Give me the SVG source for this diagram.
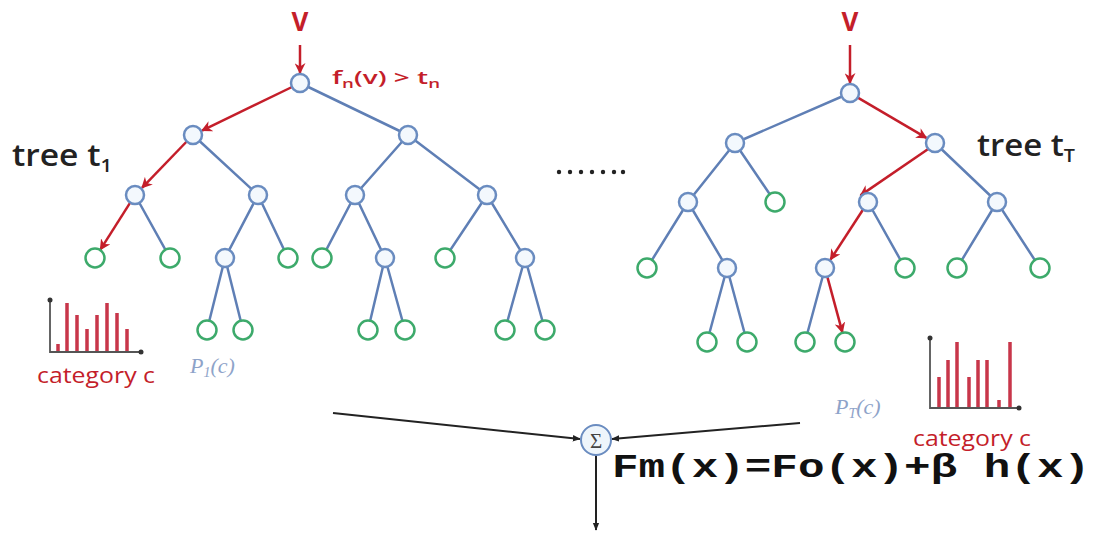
<svg xmlns="http://www.w3.org/2000/svg" width="1101" height="536" viewBox="0 0 1101 536">
<defs>
<marker id="ar" viewBox="0 0 10 10" refX="9" refY="5" markerWidth="11" markerHeight="11" markerUnits="userSpaceOnUse" orient="auto"><path d="M0,0 L10,5 L0,10 L3,5 z" fill="#c41e2a"/></marker>
<marker id="ak" viewBox="0 0 10 10" refX="9" refY="5" markerWidth="8" markerHeight="8" markerUnits="userSpaceOnUse" orient="auto"><path d="M0,1 L10,5 L0,9 z" fill="#222"/></marker>
</defs>
<style>
.e{stroke:#5f7fb5;stroke-width:2.5;fill:none}
.r{stroke:#c41e2a;stroke-width:2.5;fill:none;marker-end:url(#ar)}
.k{stroke:#222;stroke-width:2;fill:none}
.n{fill:#f3f8fd;stroke:#6a8cc0;stroke-width:2.5}
.l{fill:#fff;stroke:#3daa6b;stroke-width:2.5}
.bar{stroke:#c8364a;stroke-width:3.5;fill:none}
.ax{stroke:#555;stroke-width:1.8;fill:none}
.t{font-family:"Open Sans","Liberation Sans",sans-serif;font-weight:600;fill:#222}
.red{fill:#c41e2a;font-family:"Open Sans","Liberation Sans",sans-serif}
.p{font-family:"Liberation Serif",serif;font-style:italic;fill:#8ea3c9}
</style>
<g id="connectors">
<path class="e" d="M300,83 L408,135 M193,135 L258,195 M408,135 L355,195 M408,135 L487,195 M135,195 L170,258 M258,195 L225,258 M258,195 L288,258 M355,195 L322,258 M355,195 L385,258 M487,195 L445,258 M487,195 L525,258 M225,258 L207,330 M225,258 L243,330 M385,258 L368,330 M385,258 L405,330 M525,258 L505,330 M525,258 L545,330"/>
<path class="r" d="M300,45 L300,73"/>
<path class="r" d="M292,87 L202,130.6"/>
<path class="r" d="M186.7,141.5 L142,187.8"/>
<path class="r" d="M130.2,202.6 L100.4,249.6"/>
<path class="e" d="M850,93 L735,143 M735,143 L688,202 M735,143 L775,202 M935,143 L997,202 M688,202 L647,268 M688,202 L727,268 M868,202 L905,268 M997,202 L957,268 M997,202 L1040,268 M727,268 L707,342 M727,268 L747,342 M825,268 L805,342"/>
<path class="r" d="M850,45 L850,83"/>
<path class="r" d="M857.8,97.6 L926.4,137.9"/>
<path class="r" d="M928.2,149 L860.5,195.4"/>
<path class="r" d="M863.1,209.5 L830.5,259.6"/>
<path class="r" d="M827.3,276.7 L842.4,332.4"/>
<path class="k" d="M333,413 L580,439" marker-end="url(#ak)"/>
<path class="k" d="M800,423 L612,439" marker-end="url(#ak)"/>
<path class="k" d="M596,455 L596,530" marker-end="url(#ak)"/>
</g>
<g id="tree1">
<circle class="n" cx="300" cy="83" r="9"/>
<circle class="n" cx="193" cy="135" r="9"/>
<circle class="n" cx="408" cy="135" r="9"/>
<circle class="n" cx="135" cy="195" r="9"/>
<circle class="n" cx="258" cy="195" r="9"/>
<circle class="n" cx="355" cy="195" r="9"/>
<circle class="n" cx="487" cy="195" r="9"/>
<circle class="l" cx="95" cy="258" r="9.5"/>
<circle class="l" cx="170" cy="258" r="9.5"/>
<circle class="n" cx="225" cy="258" r="9"/>
<circle class="l" cx="288" cy="258" r="9.5"/>
<circle class="l" cx="322" cy="258" r="9.5"/>
<circle class="n" cx="385" cy="258" r="9"/>
<circle class="l" cx="445" cy="258" r="9.5"/>
<circle class="n" cx="525" cy="258" r="9"/>
<circle class="l" cx="207" cy="330" r="9.5"/>
<circle class="l" cx="243" cy="330" r="9.5"/>
<circle class="l" cx="368" cy="330" r="9.5"/>
<circle class="l" cx="405" cy="330" r="9.5"/>
<circle class="l" cx="505" cy="330" r="9.5"/>
<circle class="l" cx="545" cy="330" r="9.5"/>
</g>
<g id="tree2">
<circle class="n" cx="850" cy="93" r="9"/>
<circle class="n" cx="735" cy="143" r="9"/>
<circle class="n" cx="935" cy="143" r="9"/>
<circle class="n" cx="688" cy="202" r="9"/>
<circle class="l" cx="775" cy="202" r="9.5"/>
<circle class="n" cx="868" cy="202" r="9"/>
<circle class="n" cx="997" cy="202" r="9"/>
<circle class="l" cx="647" cy="268" r="9.5"/>
<circle class="n" cx="727" cy="268" r="9"/>
<circle class="n" cx="825" cy="268" r="9"/>
<circle class="l" cx="905" cy="268" r="9.5"/>
<circle class="l" cx="957" cy="268" r="9.5"/>
<circle class="l" cx="1040" cy="268" r="9.5"/>
<circle class="l" cx="707" cy="342" r="9.5"/>
<circle class="l" cx="747" cy="342" r="9.5"/>
<circle class="l" cx="805" cy="342" r="9.5"/>
<circle class="l" cx="845" cy="342" r="9.5"/>
</g>
<g id="labels">
<text class="red" x="300" y="31" font-size="26" font-weight="bold" text-anchor="middle">V</text>
<text class="red" x="850" y="31" font-size="26" font-weight="bold" text-anchor="middle">V</text>
<text class="red" x="332" y="84" font-size="18" font-weight="600" textLength="108" lengthAdjust="spacingAndGlyphs">f<tspan font-size="12" dy="4">n</tspan><tspan dy="-4">(v) &gt; t</tspan><tspan font-size="12" dy="4">n</tspan></text>
<text class="t" x="12" y="166" font-size="30" textLength="100" lengthAdjust="spacingAndGlyphs">tree t<tspan font-size="18" dy="6">1</tspan></text>
<text class="t" x="977" y="156" font-size="30" textLength="98" lengthAdjust="spacingAndGlyphs">tree t<tspan font-size="18" dy="6">T</tspan></text>
<g fill="#222"><circle cx="559" cy="172" r="2.2"/><circle cx="570" cy="172" r="2.2"/><circle cx="581" cy="172" r="2.2"/><circle cx="592" cy="172" r="2.2"/><circle cx="603" cy="172" r="2.2"/><circle cx="614" cy="172" r="2.2"/><circle cx="623" cy="172" r="2.2"/></g>
</g>
<g id="hist1">
<path class="bar" d="M58,352 V344 M67,352 V303 M77,352 V315 M87,352 V329 M97,352 V315 M107,352 V303 M117,352 V313 M127,352 V329"/>
<path class="ax" d="M50,300 V352 H140"/>
<circle cx="50" cy="300" r="2.5" fill="#333"/><circle cx="141" cy="352" r="2.5" fill="#333"/>
<text class="red" x="37" y="383" font-size="22" textLength="118" lengthAdjust="spacingAndGlyphs">category c</text>
<text class="p" x="190" y="373" font-size="22">P<tspan font-size="14" dy="4">1</tspan><tspan dy="-4">(c)</tspan></text>
</g>
<g id="hist2">
<path class="bar" d="M939,408 V377 M948,408 V360 M957,408 V342 M969,408 V377 M978,408 V360 M987,408 V360 M999,408 V400 M1010,408 V342"/>
<path class="ax" d="M930,338 V408 H1018"/>
<circle cx="930" cy="338" r="2.5" fill="#333"/><circle cx="1019" cy="408" r="2.5" fill="#333"/>
<text class="red" x="913" y="446" font-size="22" textLength="118" lengthAdjust="spacingAndGlyphs">category c</text>
<text class="p" x="835" y="414" font-size="22">P<tspan font-size="14" dy="4">T</tspan><tspan dy="-4">(c)</tspan></text>
</g>
<g id="sum">
<circle cx="596" cy="440" r="15" fill="#eef5fb" stroke="#6a8cc0" stroke-width="2"/>
<text x="596" y="448" font-size="21" text-anchor="middle" font-family="Liberation Serif,serif" fill="#444">Σ</text>
</g>
<text x="612" y="477" font-size="34" font-weight="bold" font-family="Liberation Mono,monospace" fill="#111" textLength="478" lengthAdjust="spacingAndGlyphs">Fm(x)=Fo(x)+β h(x)</text>
</svg>
